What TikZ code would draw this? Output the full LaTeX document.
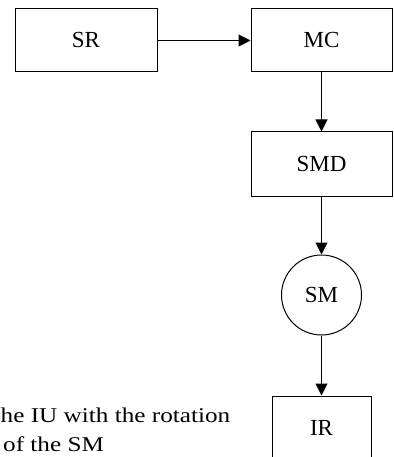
\documentclass[tikz,border=0pt]{standalone}
\usepackage{fontspec}
\setmainfont{Liberation Serif}
\newfontfamily\labelfont[FakeStretch=1.2]{Liberation Serif}
\usetikzlibrary{arrows.meta}
\tikzset{
  box/.style={draw, line width=1pt, rectangle, inner sep=0pt, font=\fontsize{23}{27}\selectfont},
  roundbox/.style={draw, line width=1pt, circle, inner sep=0pt, minimum size=80pt, font=\fontsize{23}{27}\selectfont},
  conn/.style={line width=1pt, -{Triangle[length=12pt,width=12pt]}},
  note/.style={anchor=base west, inner sep=0pt, font=\labelfont\fontsize{21}{25}\selectfont}
}
\begin{document}
\begin{tikzpicture}[x=1pt,y=-1pt]
\useasboundingbox (0,0) rectangle (393,457);
\clip (0,0) rectangle (393,457);
\node[box, minimum width=142pt, minimum height=63pt] (sr) at (86,40.5) {SR};
\node[box, minimum width=141pt, minimum height=63pt] (mc) at (321.5,40.5) {MC};
\node[box, minimum width=141pt, minimum height=64pt] (smd) at (321.5,164) {SMD};
\node[roundbox] (sm) at (321.5,295) {SM};
\node[box, minimum width=99pt, minimum height=64pt] (ir) at (321.5,428) {IR};
\draw[conn] (sr) -- (mc);
\draw[conn] (mc) -- (smd);
\draw[conn] (smd) -- (sm);
\draw[conn] (sm) -- (ir);
\node[note] (l1) at (0.5,422) {he IU with the rotation};
\node[note] (l2) at (3,451.5) {of the SM};
\end{tikzpicture}
\end{document}
